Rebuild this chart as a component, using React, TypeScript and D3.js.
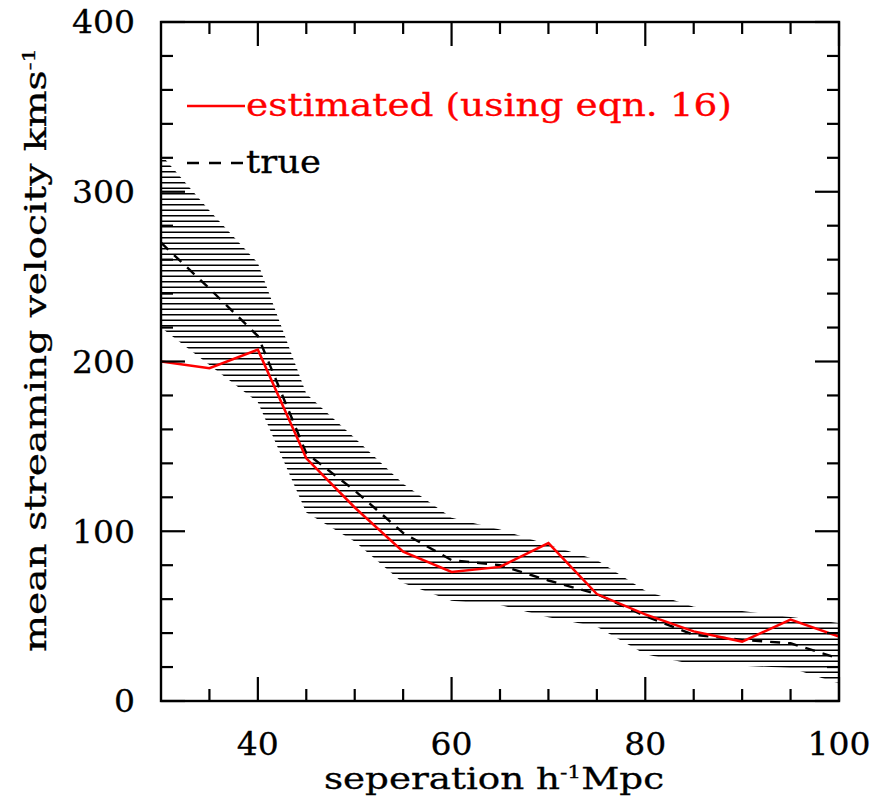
import React from 'react';
import * as d3 from 'd3';

// Separation (h^-1 Mpc)
const separation = [30, 35, 40, 45, 50, 55, 60, 65, 70, 75, 80, 85, 90, 95, 100];
// estimated mean streaming velocity (km/s), red solid
const estimated = [200, 196, 207, 143, 114, 88, 76, 79, 93, 63, 51, 41, 35, 48, 38];
// true mean streaming velocity (km/s), black dashed
const trueValues = [270, 243, 215, 146, 124, 99, 83, 80, 71, 63, 50, 39, 36, 34, 25];
// hatched uncertainty band
const bandLower = [220, 198, 176, 111, 94, 69.5, 59, 56.5, 49.3, 43.8, 27.5, 21.5, 20.8, 19.5, 10.3];
const bandUpper = [322, 289, 258, 181, 155, 128, 108, 101, 92, 83, 65, 55.5, 53, 49.5, 46];

const xMajorTicks = [40, 60, 80, 100];
const xMinorTicks = [35, 45, 50, 55, 65, 70, 75, 85, 90, 95];
const yMajorTicks = [0, 100, 200, 300, 400];
const yMinorTicks = [20, 40, 60, 80, 120, 140, 160, 180, 220, 240, 260, 280, 320, 340, 360, 380];

const FONT = "'DejaVu Serif', serif";

export default function App() {
  const W = 884, H = 801;
  const L = 161, R = 839, T = 22, B = 701;
  const x = d3.scaleLinear().domain([30, 100]).range([L, R]);
  const y = d3.scaleLinear().domain([0, 400]).range([B, T]);

  const idx = separation.map((_, i) => i);
  const line = (vals: number[]) =>
    d3.line<number>().x(i => x(separation[i])).y(i => y(vals[i]))(idx) || '';
  const area = d3.area<number>()
    .x(i => x(separation[i]))
    .y0(i => y(bandLower[i]))
    .y1(i => y(bandUpper[i]))(idx) || '';

  const hatchLevels = d3.range(B - 17.7, T, -5.5);
  const majLen = 24, minLen = 12;
  const tickFs = 31;
  const digitW = 21;
  const txtStroke = { stroke: '#000', strokeWidth: 0.3 };

  return (
    <svg width={W} height={H} style={{ position: 'absolute', left: 0, top: 0, background: '#fff' }}>
      <defs>
        <clipPath id="band"><path d={area} /></clipPath>
        <clipPath id="plot"><rect x={L} y={T} width={R - L} height={B - T} /></clipPath>
      </defs>
      <rect x={0} y={0} width={W} height={H} fill="#fff" />
      {/* hatched band */}
      <g clipPath="url(#plot)">
        <g clipPath="url(#band)">
          {hatchLevels.map((ly, k) => (
            <line key={k} x1={L} x2={R} y1={ly} y2={ly} stroke="#000" strokeWidth={1.6} />
          ))}
        </g>
        <path d={line(trueValues)} fill="none" stroke="#000" strokeWidth={2.4} strokeDasharray="10,8" />
        <path d={line(estimated)} fill="none" stroke="#ff0000" strokeWidth={2.5} />
      </g>
      {/* frame */}
      <rect x={L} y={T} width={R - L} height={B - T} fill="none" stroke="#000" strokeWidth={2.4} />
      {/* x ticks bottom & top */}
      {xMajorTicks.map(v => (
        <g key={'xM' + v}>
          <line x1={x(v)} x2={x(v)} y1={B} y2={B - majLen} stroke="#000" strokeWidth={2.2} />
          <line x1={x(v)} x2={x(v)} y1={T} y2={T + majLen} stroke="#000" strokeWidth={2.2} />
          <text x={x(v)} y={755} textAnchor="middle" fontFamily={FONT} fontSize={tickFs} fill="#000"
            textLength={digitW * String(v).length} lengthAdjust="spacingAndGlyphs" {...txtStroke}>{v}</text>
        </g>
      ))}
      {xMinorTicks.map(v => (
        <g key={'xm' + v}>
          <line x1={x(v)} x2={x(v)} y1={B} y2={B - minLen} stroke="#000" strokeWidth={2.2} />
          <line x1={x(v)} x2={x(v)} y1={T} y2={T + minLen} stroke="#000" strokeWidth={2.2} />
        </g>
      ))}
      {/* y ticks left & right */}
      {yMajorTicks.map(v => (
        <g key={'yM' + v}>
          <line x1={L} x2={L + majLen} y1={y(v)} y2={y(v)} stroke="#000" strokeWidth={2.2} />
          <line x1={R} x2={R - majLen} y1={y(v)} y2={y(v)} stroke="#000" strokeWidth={2.2} />
          <text x={135} y={y(v) + 11.3} textAnchor="end" fontFamily={FONT} fontSize={tickFs} fill="#000"
            textLength={digitW * String(v).length} lengthAdjust="spacingAndGlyphs" {...txtStroke}>{v}</text>
        </g>
      ))}
      {yMinorTicks.map(v => (
        <g key={'ym' + v}>
          <line x1={L} x2={L + minLen} y1={y(v)} y2={y(v)} stroke="#000" strokeWidth={2.2} />
          <line x1={R} x2={R - minLen} y1={y(v)} y2={y(v)} stroke="#000" strokeWidth={2.2} />
        </g>
      ))}
      {/* legend */}
      <line x1={187} x2={245} y1={106} y2={106} stroke="#ff0000" strokeWidth={2.5} />
      <text x={246} y={116} fontFamily={FONT} fontSize={31} fill="#ff0000" stroke="#ff0000" strokeWidth={0.3}
        textLength={486} lengthAdjust="spacingAndGlyphs">estimated (using eqn. 16)</text>
      <line x1={187} x2={243} y1={163} y2={163} stroke="#000" strokeWidth={2.4} strokeDasharray="12,10" />
      <text x={246} y={173} fontFamily={FONT} fontSize={31} fill="#000" textLength={75}
        lengthAdjust="spacingAndGlyphs" {...txtStroke}>true</text>
      {/* axis labels */}
      <text x={494} y={789} textAnchor="middle" fontFamily={FONT} fontSize={29} fill="#000"
        textLength={340} lengthAdjust="spacingAndGlyphs" {...txtStroke}>
        <tspan>seperation h</tspan>
        <tspan dy={-11} fontSize={17}>-1</tspan>
        <tspan dy={11}>Mpc</tspan>
      </text>
      <text transform={`translate(46, 350) rotate(-90)`} textAnchor="middle" fontFamily={FONT} fontSize={29}
        fill="#000" textLength={604} lengthAdjust="spacingAndGlyphs" {...txtStroke}>
        <tspan>mean streaming velocity kms</tspan>
        <tspan dy={-11} fontSize={17}>-1</tspan>
      </text>
    </svg>
  );
}
